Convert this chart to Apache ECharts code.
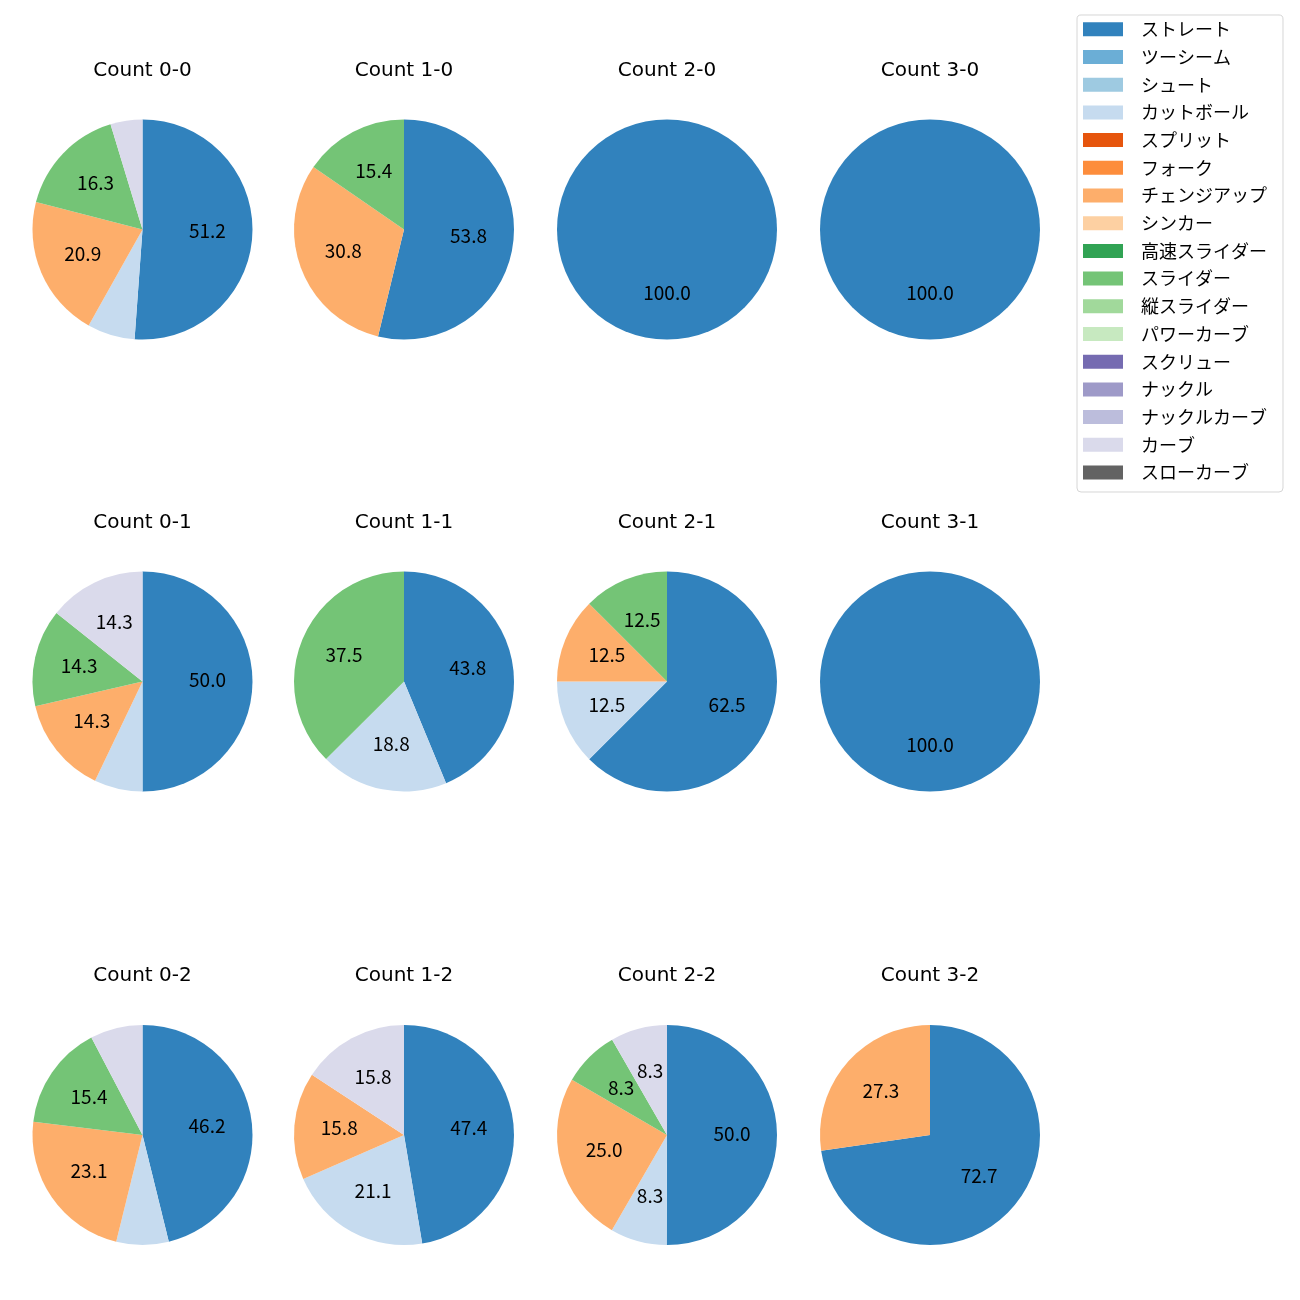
<!DOCTYPE html>
<html><head><meta charset="utf-8">
<script src="https://cdn.jsdelivr.net/npm/echarts@6/dist/echarts.min.js"></script>
<style>html,body{margin:0;padding:0;background:#fff}#chart{width:1300px;height:1300px}</style>
</head><body><div id="chart"></div>
<script>
// ---- data ----
const pitchTypes = ['ストレート','ツーシーム','シュート','カットボール','スプリット','フォーク','チェンジアップ','シンカー','高速スライダー','スライダー','縦スライダー','パワーカーブ','スクリュー','ナックル','ナックルカーブ','カーブ','スローカーブ'];
const countTitles = ['Count 0-0','Count 1-0','Count 2-0','Count 3-0','Count 0-1','Count 1-1','Count 2-1','Count 3-1','Count 0-2','Count 1-2','Count 2-2','Count 3-2'];
//                ストレ ツー シュ カット スプ フォ チェン シン 高速 スラ 縦ス パワ スク ナッ ナカ カーブ スロ
const share_0_0 = [51.2, 0, 0, 7.0, 0, 0, 20.9, 0, 0, 16.3, 0, 0, 0, 0, 0, 4.7, 0];
const share_1_0 = [53.8, 0, 0, 0,   0, 0, 30.8, 0, 0, 15.4, 0, 0, 0, 0, 0, 0,   0];
const share_2_0 = [100,  0, 0, 0,   0, 0, 0,    0, 0, 0,    0, 0, 0, 0, 0, 0,   0];
const share_3_0 = [100,  0, 0, 0,   0, 0, 0,    0, 0, 0,    0, 0, 0, 0, 0, 0,   0];
const share_0_1 = [50.0, 0, 0, 7.1, 0, 0, 14.3, 0, 0, 14.3, 0, 0, 0, 0, 0, 14.3, 0];
const share_1_1 = [43.8, 0, 0, 18.8,0, 0, 0,    0, 0, 37.5, 0, 0, 0, 0, 0, 0,   0];
const share_2_1 = [62.5, 0, 0, 12.5,0, 0, 12.5, 0, 0, 12.5, 0, 0, 0, 0, 0, 0,   0];
const share_3_1 = [100,  0, 0, 0,   0, 0, 0,    0, 0, 0,    0, 0, 0, 0, 0, 0,   0];
const share_0_2 = [46.2, 0, 0, 7.7, 0, 0, 23.1, 0, 0, 15.4, 0, 0, 0, 0, 0, 7.7, 0];
const share_1_2 = [47.4, 0, 0, 21.1,0, 0, 15.8, 0, 0, 0,    0, 0, 0, 0, 0, 15.8, 0];
const share_2_2 = [50.0, 0, 0, 8.3, 0, 0, 25.0, 0, 0, 8.3,  0, 0, 0, 0, 0, 8.3, 0];
const share_3_2 = [72.7, 0, 0, 0,   0, 0, 27.3, 0, 0, 0,    0, 0, 0, 0, 0, 0,   0];
const allShares = [share_0_0, share_1_0, share_2_0, share_3_0, share_0_1, share_1_1, share_2_1, share_3_1, share_0_2, share_1_2, share_2_2, share_3_2];

// ---- style / layout ----
const pitchColors = ['#3182bd','#6baed6','#9ecae1','#c6dbef','#e6550d','#fd8d3c','#fdae6b','#fdd0a2','#31a354','#74c476','#a1d99b','#c7e9c0','#756bb1','#9e9ac8','#bcbddc','#dadaeb','#636363'];
const FONT = '"Noto Sans CJK JP", "DejaVu Sans", sans-serif';
const TITLE_FONT = '"DejaVu Sans", "Noto Sans CJK JP", sans-serif';
const colX = [142.5, 404, 667, 930];
const rowY = [229.5, 681.5, 1135];
const R = 110;
const LABEL_R0 = 14;
const TITLE_OFFSET = 159;
const TITLE_FS = 20;
const LABEL_FS = 19;

const chart = echarts.init(document.getElementById('chart'), null, {renderer: 'canvas'});
const series = [];
const titles = [];

// hidden series so that every pitch type appears in the legend
series.push({
  type: 'pie', silent: true, center: [-2000, -2000], radius: [0, 0],
  label: {show: false}, labelLine: {show: false},
  data: pitchTypes.map((n, i) => ({name: n, value: 1, itemStyle: {color: pitchColors[i]}}))
});

allShares.forEach((vals, k) => {
  const cx = colX[k % 4], cy = rowY[Math.floor(k / 4)];
  const data = [];
  vals.forEach((v, i) => { if (v > 0) data.push({name: pitchTypes[i], value: v, itemStyle: {color: pitchColors[i]}}); });
  series.push({
    type: 'pie', center: [cx, cy], radius: [0, R], startAngle: 90, clockwise: true,
    silent: true, animation: false, itemStyle: {borderWidth: 0},
    label: {show: false}, labelLine: {show: false}, emphasis: {disabled: true},
    data: data
  });
  // transparent overlay placing the percentage labels near 0.6 R
  series.push({
    type: 'pie', center: [cx, cy], radius: [LABEL_R0, R], startAngle: 90, clockwise: true,
    silent: true, animation: false, legendHoverLink: false,
    itemStyle: {color: 'rgba(0,0,0,0)', borderWidth: 0},
    label: {show: true, position: 'inside', color: '#000', fontSize: LABEL_FS, fontFamily: FONT, offset: [0, -1.5],
      formatter: p => (p.value >= 8 ? p.value.toFixed(1) : '')},
    labelLine: {show: false}, emphasis: {disabled: true},
    data: data.map(d => ({name: d.name, value: d.value}))
  });
  titles.push({
    text: countTitles[k], left: cx, top: cy - TITLE_OFFSET - TITLE_FS / 2, textAlign: 'center', padding: 0,
    textStyle: {fontSize: TITLE_FS, fontWeight: 'normal', color: '#000', fontFamily: TITLE_FONT, lineHeight: TITLE_FS}
  });
});

chart.setOption({
  animation: false,
  backgroundColor: '#fff',
  title: titles,
  legend: {
    orient: 'vertical', left: 1077, top: 15, padding: [5.3, 16, 10.5, 6],
    itemWidth: 40, itemHeight: 14, itemGap: 9.7,
    icon: 'rect', selectedMode: false,
    borderColor: '#d6d6d6', borderWidth: 1, borderRadius: 4, backgroundColor: '#fff',
    textStyle: {fontSize: 18, color: '#000', fontFamily: FONT, padding: [0, 0, 0, 13]},
    data: pitchTypes
  },
  series: series
});
</script></body></html>
